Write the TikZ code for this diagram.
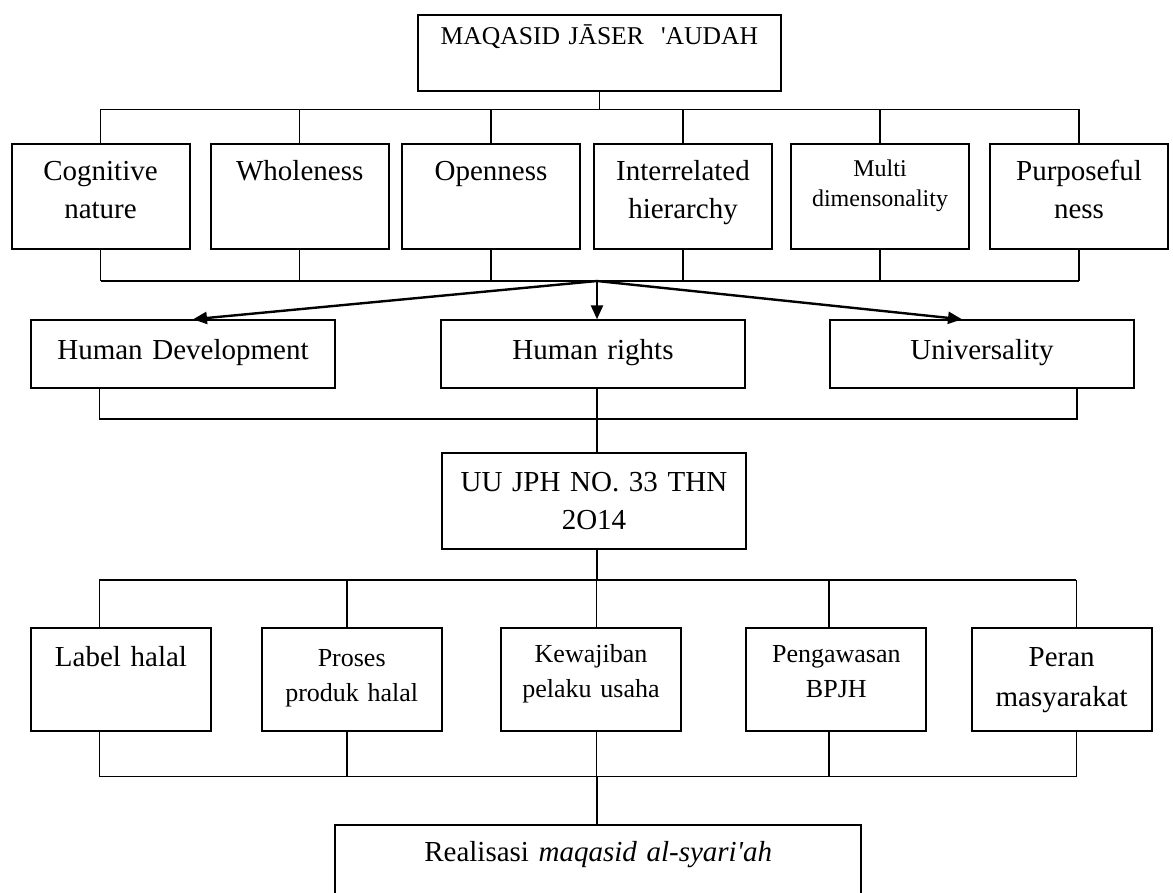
\documentclass[tikz,border=0pt]{standalone}
\usepackage{fontspec}
\setmainfont{Liberation Serif}
\usetikzlibrary{arrows.meta}

\begin{document}
\begin{tikzpicture}[x=0.5pt, y=-0.5pt,
  box/.style={draw, line width=1pt, inner sep=0pt, align=center, anchor=north west},
  wire/.style={line width=0.7pt},
  panah/.style={line width=1.2pt, -{Triangle[length=7pt,width=6pt]}},
  teks/.style={font=\fontsize{14.5}{19}\selectfont},
  kecil/.style={font=\fontsize{13}{17.5}\selectfont}]
\useasboundingbox (0,0) rectangle (1173,893);

\node[box, font=\fontsize{12.8}{17}\selectfont, text width=181.65pt, text height=14.6pt, text depth=23.4pt] (t) at (416.7,14) {MAQASID JĀSER\ \ \textquotesingle AUDAH};

% enam ciri sistem
\node[box, teks, text width=89pt, text height=18.65pt, text depth=34.15pt] (c1) at (10.5,142.7) {Cognitive\\nature};
\node[box, teks, text width=89pt, text height=18.65pt, text depth=34.15pt] (c2) at (209.7,142.7) {Wholeness};
\node[box, teks, text width=89pt, text height=18.65pt, text depth=34.15pt] (c3) at (401,142.7) {Openness};
\node[box, teks, text width=89pt, text height=18.65pt, text depth=34.15pt] (c4) at (593,142.7) {Interrelated\\hierarchy};
\node[box, font=\fontsize{12}{15}\selectfont, text width=89pt, text height=16.65pt, text depth=36.15pt] (c5) at (790,142.7) {Multi\\dimensonality};
\node[box, teks, text width=89pt, text height=18.65pt, text depth=34.15pt] (c6) at (989,142.7) {Purposeful\\ness};

\node[box, teks, text width=152pt, text height=19.35pt, text depth=14.35pt] (h1) at (30,319.3) {Human Development};
\node[box, teks, text width=152pt, text height=19.35pt, text depth=14.35pt] (h2) at (440,319.3) {Human rights};
\node[box, teks, text width=152pt, text height=19.35pt, text depth=14.35pt] (h3) at (829,319.3) {Universality};

\node[box, teks, text width=152.3pt, text height=19.15pt, text depth=28.85pt] (u) at (440.7,451.7) {UU JPH NO. 33 THN\\2O14};

\node[box, teks, text width=90pt, text height=18.85pt, text depth=32.5pt] (p1) at (30,627.3) {Label halal};
\node[box, kecil, text width=90pt, text height=18.85pt, text depth=32.5pt] (p2) at (260.7,627.3) {Proses\\produk halal};
\node[box, kecil, text width=90pt, text height=17.2pt, text depth=34.15pt] (p3) at (500,627.3) {Kewajiban\\pelaku usaha};
\node[box, kecil, text width=90pt, text height=17.2pt, text depth=34.15pt] (p4) at (745.3,627.3) {Pengawasan\\BPJH};
\node[box, font=\fontsize{14.5}{20}\selectfont, text width=90pt, text height=18.85pt, text depth=32.5pt] (p5) at (970.7,627.3) {Peran\\masyarakat};

\node[box, teks, text width=262.85pt, text height=18pt, text depth=30pt] (r) at (334.3,824) {Realisasi \textit{maqasid al-syari\textquotesingle ah}};

% garis penghubung
\coordinate (a0) at (597,109.3);
\coordinate (pusat) at (597,281);
\draw[wire] (t.south) -- (t.south |- a0);
\draw[wire] (c1.north |- a0) -- (c6.north |- a0);
\draw[wire] (c1.south |- pusat) -- (c6.south |- pusat);
\foreach \n in {c1,c2,c3,c4,c5,c6}
  \draw[wire] (\n.north) -- (\n.north |- a0) (\n.south) -- (\n.south |- pusat);

\draw[panah] (pusat) -- ([xshift=5pt]h1.north);
\draw[panah] (pusat) -- (pusat |- h2.north);
\draw[panah] (pusat) -- ([xshift=-10pt]h3.north);

\coordinate (d1) at (99.3,419);
\coordinate (d0) at (597,419);
\coordinate (d2) at (1077,419);
\draw[wire] (h1.south -| d1) -- (d1) -- (d2) -- (h3.south -| d2);
\draw[wire] (h2.south -| d0) -- (u.north -| d0);

\coordinate (e1) at (99.3,580);
\coordinate (e0) at (597,580);
\coordinate (e2) at (1076.3,580);
\coordinate (g1) at (99.3,776.7);
\coordinate (g0) at (597,776.7);
\coordinate (g2) at (1076.3,776.7);
\draw[wire] (u.south -| e0) -- (e0);
\draw[wire] (e1) -- (e2);
\draw[wire] (g1) -- (g2);
\foreach \n/\x in {p1/99.3, p2/347, p3/596.7, p4/829, p5/1076.3}{
  \coordinate (k) at (\x,580);
  \draw[wire] (k) -- (k |- \n.north) (\n.south -| k) -- (k |- g0);
}
\draw[wire] (g0) -- (r.north -| g0);
\end{tikzpicture}
\end{document}
